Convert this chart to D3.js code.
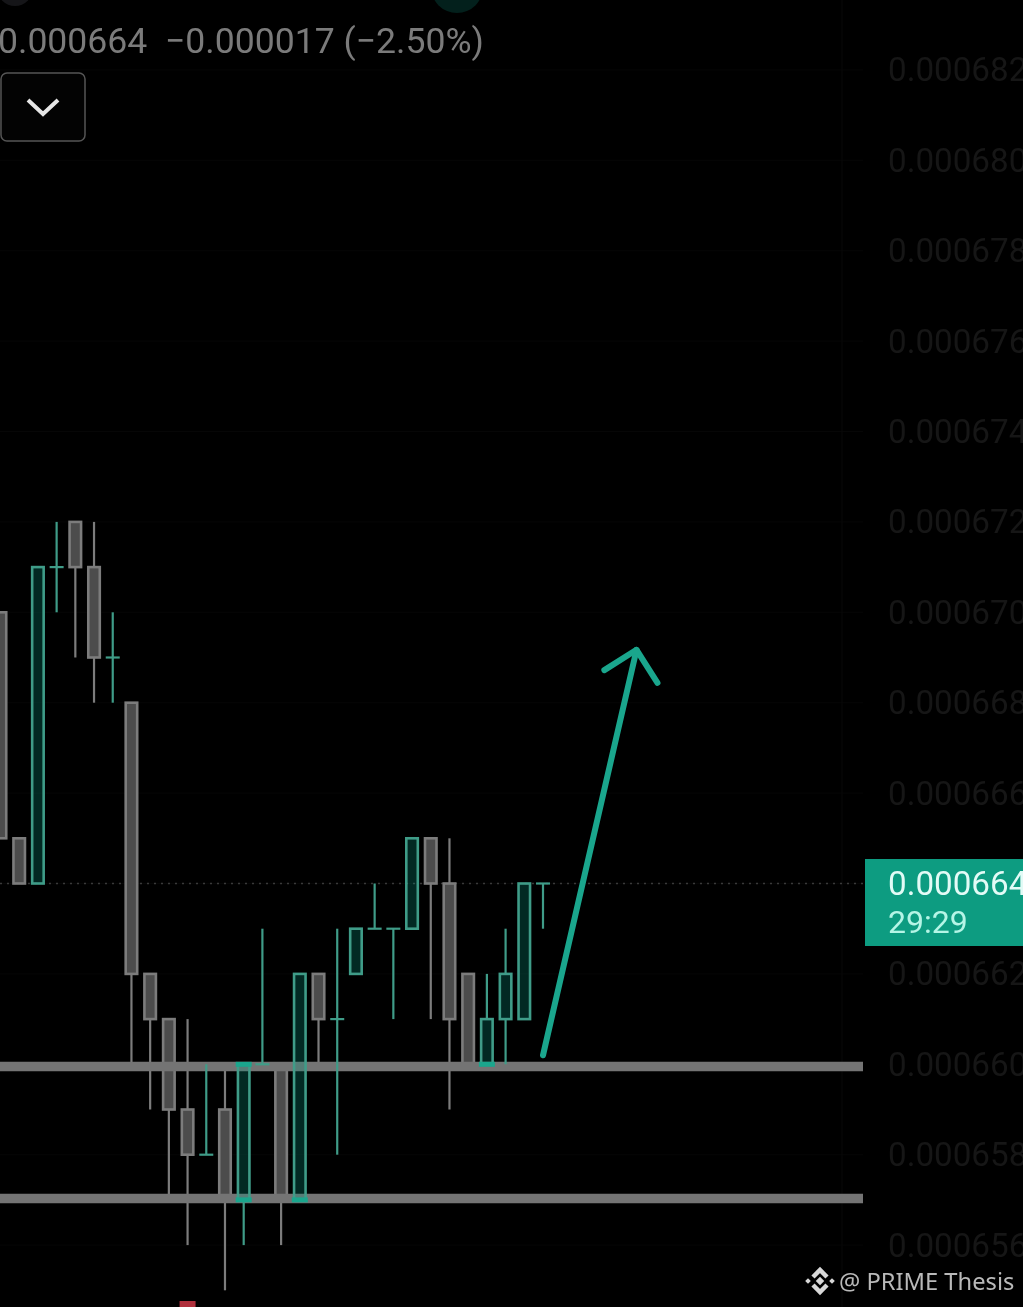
<!DOCTYPE html>
<html><head><meta charset="utf-8">
<style>html,body{margin:0;padding:0;background:#000;overflow:hidden}svg{display:block;filter:blur(.45px)}</style>
<script src="https://cdn.jsdelivr.net/npm/d3@7"></script></head>
<body><svg id="c" width="1023" height="1307"></svg>
<script>
// Prices in units of 0.000001
const candleIndex = d3.range(0, 30);
const opens  = [670,665,664,671,672,671,669,668,662,661,659,658,659,657,660,660,657,662,661,662,663,663,663,665,664,662,660,661,661,664];
const closes = [665,664,671,671,671,669,669,662,661,659,658,658,657,660,660,657,662,661,661,663,663,663,665,664,661,660,661,662,664,664];
const highs  = [670,665,671,672,672,672,670,668,662,661,661,660,660,660,663,660,662,662,663,663,664,663,665,665,665,662,662,663,664,664];
const lows   = [665,664,664,670,669,668,668,660,659,657,656,658,655,656,660,656,657,660,658,662,663,661,663,661,659,660,660,660,661,663];
const axisTicks = [682,680,678,676,674,672,670,668,666,662,660,658,656];
const levelPrices = [659.95, 657.03];
const lastPrice = 664;
const countdown = "29:29";
const headerText = "0.000664  \u22120.000017 (\u22122.50%)";
const watermark = "@ PRIME Thesis";
const lowMarkerIndex = 10;
const arrowShaft = [[29,660.2],[34,669.17]];
const arrowHead = [[32.28,668.72],[34,669.17],[35.12,668.44]];

const W=1023,H=1307,plotRight=863;
const svg=d3.select("#c");
const x=d3.scaleLinear().domain([0,29]).range([0.5,543]);
const y=d3.scaleLinear().domain([664,672]).range([883.5,521.9]);
const fmt=v=>"0."+String(Math.round(v)).padStart(6,"0");
const FONT="Roboto, sans-serif";
const TEAL="#1aa68d";
const data=candleIndex.map(i=>({i,o:opens[i],c:closes[i],h:highs[i],l:lows[i],up:closes[i]>=opens[i]}));

svg.append("rect").attr("width",W).attr("height",H).attr("fill","#000");
// faint grid
svg.append("g").selectAll("line").data(axisTicks.concat([664])).join("line")
  .attr("x1",0).attr("x2",plotRight).attr("y1",d=>y(d)).attr("y2",d=>y(d)).attr("stroke","#060606");
svg.append("line").attr("x1",842).attr("x2",842).attr("y1",0).attr("y2",H).attr("stroke","#090909");
// top icons
svg.append("circle").attr("cx",15).attr("cy",-12).attr("r",18).attr("fill","#151518");
svg.append("circle").attr("cx",457).attr("cy",-13).attr("r",26).attr("fill","#03201c");
// header
svg.append("text").attr("x",-2).attr("y",53).attr("font-family",FONT).attr("font-size",35.6).attr("fill","#7b7b7b").style("white-space","pre").text(headerText);
svg.append("rect").attr("x",1).attr("y",73).attr("width",84).attr("height",68).attr("rx",6).attr("fill","#030303").attr("stroke","#555").attr("stroke-width",1.5);
svg.append("path").attr("d",d3.line()([[28,100],[43,114],[58,100]])).attr("fill","none").attr("stroke","#e6e6e6").attr("stroke-width",4);
// axis labels
svg.append("g").selectAll("text").data(axisTicks).join("text")
  .attr("x",888).attr("y",d=>y(d)+11.5).attr("font-family",FONT).attr("font-size",33.2).attr("fill","#161616").text(fmt);
// dotted last price
svg.append("line").attr("x1",0).attr("x2",plotRight).attr("y1",y(lastPrice)).attr("y2",y(lastPrice)).attr("stroke","#3a3a3a").attr("stroke-width",1.5).attr("stroke-dasharray","2 5");

const bodyW=11.5;
function drawCandles(sel){
  sel.each(function(d){
    const g=d3.select(this), stroke=d.up?"#3f9c88":"#7c7c7c", fill=d.up?"rgba(8,153,129,.27)":"#4c4c4c";
    const top=Math.min(y(d.o),y(d.c)), bot=Math.max(y(d.o),y(d.c));
    // upper and lower wicks stop at the body, so they do not show through its fill
    [[y(d.h),top],[bot,y(d.l)]].forEach(([a,b])=>{ if(b-a>0.5) g.append("line").attr("x1",x(d.i)).attr("x2",x(d.i)).attr("y1",a).attr("y2",b).attr("stroke",stroke).attr("stroke-width",2.2); });
    if(bot-top<1){
      g.append("line").attr("x1",x(d.i)-7).attr("x2",x(d.i)+7).attr("y1",top).attr("y2",top).attr("stroke",stroke).attr("stroke-width",2.2);
    } else {
      g.append("rect").attr("x",x(d.i)-bodyW/2).attr("width",bodyW).attr("y",top).attr("height",bot-top).attr("fill",fill).attr("stroke",stroke).attr("stroke-width",2.6);
    }
  });
}
// gray candles under the drawn levels
svg.append("g").selectAll("g").data(data.filter(d=>!d.up)).join("g").call(drawCandles);
// level lines
svg.append("g").selectAll("line").data(levelPrices).join("line")
  .attr("x1",0).attr("x2",plotRight).attr("y1",d=>y(d)).attr("y2",d=>y(d)).attr("stroke","#747474").attr("stroke-width",9.5);
// green candles over levels
svg.append("g").selectAll("g").data(data.filter(d=>d.up)).join("g").call(drawCandles);
// brighter teal where green body edges meet a level
const edgeHits=[];
data.filter(d=>d.up&&d.c>d.o).forEach(d=>[d.o,d.c].forEach(v=>{ if(levelPrices.some(l=>Math.abs(l-v)<0.1)) edgeHits.push({i:d.i,v}); }));
svg.append("g").selectAll("line").data(edgeHits).join("line")
  .attr("x1",d=>x(d.i)-8).attr("x2",d=>x(d.i)+8).attr("y1",d=>y(d.v)).attr("y2",d=>y(d.v)).attr("stroke",TEAL).attr("stroke-width",5);
// arrow
const arrowLine=d3.line().x(d=>x(d[0])).y(d=>y(d[1]));
svg.append("path").attr("d",arrowLine(arrowShaft)).attr("fill","none").attr("stroke",TEAL).attr("stroke-width",6).attr("stroke-linecap","round");
svg.append("path").attr("d",arrowLine(arrowHead)).attr("fill","none").attr("stroke",TEAL).attr("stroke-width",6).attr("stroke-linecap","round").attr("stroke-linejoin","round");
// low marker
svg.append("rect").attr("x",x(lowMarkerIndex)-8).attr("y",1301).attr("width",16).attr("height",6).attr("fill","#b0303c");
// price tag
svg.append("rect").attr("x",865).attr("y",859).attr("width",158).attr("height",87).attr("fill","#0d9c81");
svg.append("text").attr("x",888).attr("y",y(lastPrice)+11.5).attr("font-family",FONT).attr("font-size",33.2).attr("fill","#e2fbf6").text(fmt(lastPrice));
svg.append("text").attr("x",888).attr("y",933).attr("font-family",FONT).attr("font-size",32).attr("fill","#b5f5e6").text(countdown);
// watermark
const ic=svg.append("g").attr("transform","translate(820,1281)");
["M-7,-4 L0,-11 L7,-4","M-7,4 L0,11 L7,4"].forEach(p=>ic.append("path").attr("d",p).attr("fill","none").attr("stroke","#d8d8d8").attr("stroke-width",4.5));
[[0,0,6],[-12,0,4],[12,0,4]].forEach(([a,b,s])=>ic.append("rect").attr("x",a-s/2).attr("y",b-s/2).attr("width",s).attr("height",s).attr("fill","#d8d8d8").attr("transform",`rotate(45 ${a} ${b})`));
svg.append("text").attr("x",839).attr("y",1290).attr("font-family","'Noto Sans',sans-serif").attr("font-size",23.7).attr("fill","#b9b9b9").text(watermark);
</script></body></html>
